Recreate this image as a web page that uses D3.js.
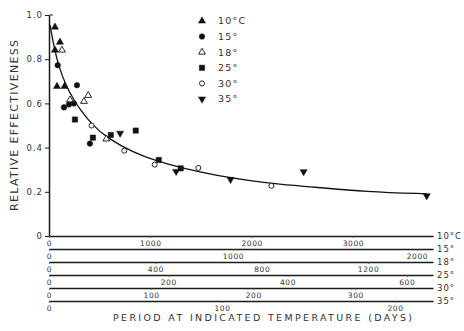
<!DOCTYPE html>
<html>
<head>
<meta charset="utf-8">
<script src="https://cdn.jsdelivr.net/npm/d3@7"></script>
<style>
body { margin: 0; background: #fff; }
svg text { font-family: "DejaVu Sans", sans-serif; fill: #333; }
</style>
</head>
<body>
<div id="chart"></div>
<script>
// points: [period on the 10C scale (days), relative effectiveness]
var temp10 = [[59, 0.945], [108, 0.877], [59, 0.841], [79, 0.677], [153, 0.677]];
var temp15 = [[86, 0.773], [276, 0.682], [148, 0.582], [197, 0.595], [246, 0.6], [404, 0.418]];
var temp18 = [[128, 0.841], [207, 0.616], [345, 0.609], [387, 0.636], [566, 0.439]];
var temp25 = [[256, 0.527], [433, 0.445], [610, 0.457], [856, 0.477], [1083, 0.344], [1300, 0.306]];
var temp30 = [[420, 0.5], [743, 0.386], [1043, 0.323], [1474, 0.308], [2195, 0.227]];
var temp35 = [[702, 0.465], [1255, 0.292], [1792, 0.256], [2513, 0.291], [3728, 0.182]];

// fitted line
var fitCurve = [[10, 0.955], [49, 0.855], [98, 0.764], [167, 0.682], [246, 0.614], [315, 0.568],
    [413, 0.509], [580, 0.441], [836, 0.377], [1052, 0.341], [1328, 0.305], [1662, 0.273],
    [1987, 0.25], [2311, 0.232], [2577, 0.223], [3138, 0.2], [3728, 0.191]];

var yTicks = [0, 0.2, 0.4, 0.6, 0.8, 1.0];

// one stacked day scale per temperature
var rowNames = ["10°C", "15°", "18°", "25°", "30°", "35°"];
var rowMax = [3790, 2087, 1444, 644, 376, 222];
var rowTicks = [[0, 1000, 2000, 3000], [0, 1000, 2000], [0, 400, 800, 1200],
    [0, 200, 400, 600], [0, 100, 200, 300], [0, 100, 200]];

var legendNames = ["10°C", "15°", "18°", "25°", "30°", "35°"];

var totalWidth = 464,
    totalHeight = 331,
    mLeft = 49,
    mRight = 433,
    mTop = 15,
    mBottom = 236,
    rowGap = 13;

var svg = d3.select("#chart").append("svg")
    .attr("width", totalWidth)
    .attr("height", totalHeight);

var xScale = d3.scaleLinear().domain([0, rowMax[0]]).range([mLeft, mRight]);
var yScale = d3.scaleLinear().domain([0, 1]).range([mBottom, mTop]);

// marker styles for each series
var series = [
    {data: temp10, type: d3.symbolTriangle, size: 22, fill: true, rot: 0},
    {data: temp15, type: d3.symbolCircle, size: 24, fill: true, rot: 0},
    {data: temp18, type: d3.symbolTriangle, size: 20, fill: false, rot: 0},
    {data: temp25, type: d3.symbolSquare, size: 28, fill: true, rot: 0},
    {data: temp30, type: d3.symbolCircle, size: 20, fill: false, rot: 0},
    {data: temp35, type: d3.symbolTriangle, size: 22, fill: true, rot: 180}
];

// y axis
var yAxis = d3.axisLeft(yScale)
    .tickValues(yTicks)
    .tickSize(4)
    .tickSizeOuter(0)
    .tickPadding(2)
    .tickFormat(function(d) { return d === 0 ? "0" : d3.format(".1f")(d); });

var gy = svg.append("g")
    .attr("transform", "translate(" + mLeft + ",0)")
    .call(yAxis);
gy.select(".domain").attr("stroke", "#1a1a1a").attr("stroke-width", 1.5);
gy.selectAll(".tick line").attr("stroke", "#1a1a1a").attr("stroke-width", 1);
gy.selectAll(".tick text").style("font-size", "8.5px").style("letter-spacing", "1px").attr("fill", "#333");

svg.append("line")
    .attr("x1", mLeft).attr("x2", mLeft + 4)
    .attr("y1", yScale(1)).attr("y2", yScale(1))
    .attr("stroke", "#1a1a1a").attr("stroke-width", 1);

// stacked day scales (first one is the plot's own x axis)
rowNames.forEach(function(name, i) {
    var rowY = mBottom + i * rowGap;
    var s = d3.scaleLinear().domain([0, rowMax[i]]).range([mLeft, mRight]);
    var ax = d3.axisBottom(s)
        .tickValues(rowTicks[i])
        .tickSize(2)
        .tickSizeOuter(0)
        .tickPadding(3)
        .tickFormat(d3.format("d"));
    var g = svg.append("g")
        .attr("transform", "translate(0," + rowY + ")")
        .call(ax);
    g.select(".domain").attr("stroke", "#1a1a1a").attr("stroke-width", 1.4);
    g.selectAll(".tick line").attr("stroke", "#555").attr("stroke-width", 0.8);
    g.selectAll(".tick text")
        .style("font-size", "7.5px")
        .style("letter-spacing", "0.6px")
        .attr("fill", "#555");
    svg.append("text")
        .attr("x", 437)
        .attr("y", rowY)
        .attr("dy", "0.35em")
        .style("font-size", "8.5px")
        .style("letter-spacing", "1px")
        .text(name);
});

// fitted curve
var line = d3.line()
    .x(function(d) { return xScale(d[0]); })
    .y(function(d) { return yScale(d[1]); })
    .curve(d3.curveBasis);

svg.append("path")
    .datum(fitCurve)
    .attr("d", line)
    .attr("fill", "none")
    .attr("stroke", "#111")
    .attr("stroke-width", 1.3);

// points
series.forEach(function(sr) {
    var sym = d3.symbol().type(sr.type).size(sr.size);
    svg.append("g").selectAll("path")
        .data(sr.data)
        .enter().append("path")
        .attr("d", sym)
        .attr("transform", function(d) {
            return "translate(" + xScale(d[0]) + "," + yScale(d[1]) + ") rotate(" + sr.rot + ")";
        })
        .attr("fill", sr.fill ? "#111" : "#fff")
        .attr("stroke", "#111")
        .attr("stroke-width", sr.fill ? 0.5 : 0.9);
});

// legend
var legendY = d3.scalePoint().domain(legendNames).range([21, 99]);
legendNames.forEach(function(name, i) {
    var sr = series[i];
    var sym = d3.symbol().type(sr.type).size(sr.size);
    svg.append("path")
        .attr("d", sym)
        .attr("transform", "translate(202," + legendY(name) + ") rotate(" + sr.rot + ")")
        .attr("fill", sr.fill ? "#111" : "#fff")
        .attr("stroke", "#111")
        .attr("stroke-width", sr.fill ? 0.5 : 0.9);
    svg.append("text")
        .attr("x", 218)
        .attr("y", legendY(name))
        .attr("dy", "0.35em")
        .style("font-size", "9.5px")
        .style("letter-spacing", "1.2px")
        .text(name);
});

// axis titles
svg.append("text")
    .attr("x", 113)
    .attr("y", 321)
    .attr("textLength", 299)
    .attr("lengthAdjust", "spacing")
    .style("font-size", "9.5px")
    .text("PERIOD AT INDICATED TEMPERATURE (DAYS)");

svg.append("text")
    .attr("transform", "translate(18,211) rotate(-90)")
    .attr("textLength", 171)
    .attr("lengthAdjust", "spacing")
    .style("font-size", "11px")
    .text("RELATIVE EFFECTIVENESS");
</script>
</body>
</html>
